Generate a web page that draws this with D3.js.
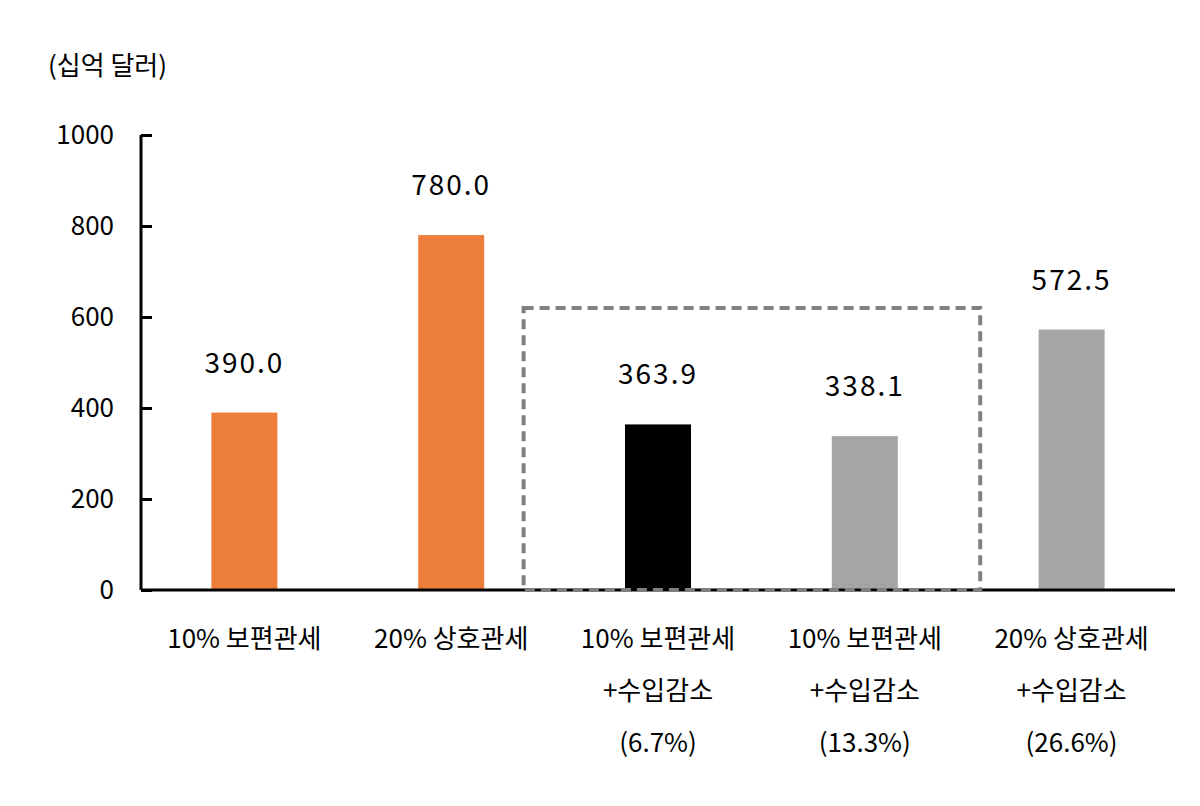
<!DOCTYPE html><html><head><meta charset="utf-8">
<script src="https://cdn.jsdelivr.net/npm/d3@7"></script>
<style>body{margin:0;background:#fff}</style></head><body>
<svg id="c" width="1200" height="806"></svg>
<script>
const categories=[["10% 보편관세"],["20% 상호관세"],["10% 보편관세","+수입감소","(6.7%)"],["10% 보편관세","+수입감소","(13.3%)"],["20% 상호관세","+수입감소","(26.6%)"]];
const values=[390.0,780.0,363.9,338.1,572.5];
const colors=["#ed7d3a","#ed7d3a","#000000","#a5a5a5","#a5a5a5"];
const yTicks=[0,200,400,600,800,1000];
const unit="(십억 달러)";
const font="'Noto Sans CJK KR','Noto Sans',sans-serif";
const svg=d3.select("#c");
const x=d3.scaleBand().domain(d3.range(values.length)).range([141,1175]);
const y=d3.scaleLinear().domain([0,1000]).range([590,135]);
const bw=66;
svg.selectAll("rect.b").data(values).join("rect").attr("x",(d,i)=>x(i)+x.bandwidth()/2-bw/2)
 .attr("y",d=>y(d)).attr("width",bw).attr("height",d=>y(0)-y(d)).attr("fill",(d,i)=>colors[i]);
svg.selectAll("text.v").data(values).join("text").attr("x",(d,i)=>x(i)+x.bandwidth()/2).attr("y",d=>y(d)-40)
 .attr("text-anchor","middle").attr("font-family",font).attr("font-size",28).attr("letter-spacing",2).text(d=>d.toFixed(1));
const ya=svg.append("g").attr("transform","translate(141,0)").call(d3.axisRight(y).tickValues(yTicks).tickSize(11).tickFormat(""));
ya.select(".domain").attr("stroke-width",3).attr("d","M0,135V590");
ya.selectAll(".tick line").attr("stroke-width",3);
svg.selectAll("text.yt").data(yTicks).join("text").attr("x",114).attr("y",d=>y(d)+9).attr("text-anchor","end")
 .attr("font-family",font).attr("font-size",26).text(d=>d);
svg.append("line").attr("x1",141).attr("x2",1175).attr("y1",590).attr("y2",590).attr("stroke","#000").attr("stroke-width",3);
svg.append("rect").attr("x",x(2)-31).attr("y",y(620)).attr("width",(x(3)+x.bandwidth()+12)-(x(2)-31)).attr("height",y(0)-y(620))
 .attr("fill","none").attr("stroke","#7f7f7f").attr("stroke-width",4).attr("stroke-dasharray","10,6");
categories.forEach((lines,i)=>{lines.forEach((t,j)=>{svg.append("text").attr("x",x(i)+x.bandwidth()/2).attr("y",648+j*52)
 .attr("text-anchor","middle").attr("font-family",font).attr("font-size",26).text(t);});});
svg.append("text").attr("x",48).attr("y",75).attr("font-family",font).attr("font-size",26).text(unit);
</script></body></html>
